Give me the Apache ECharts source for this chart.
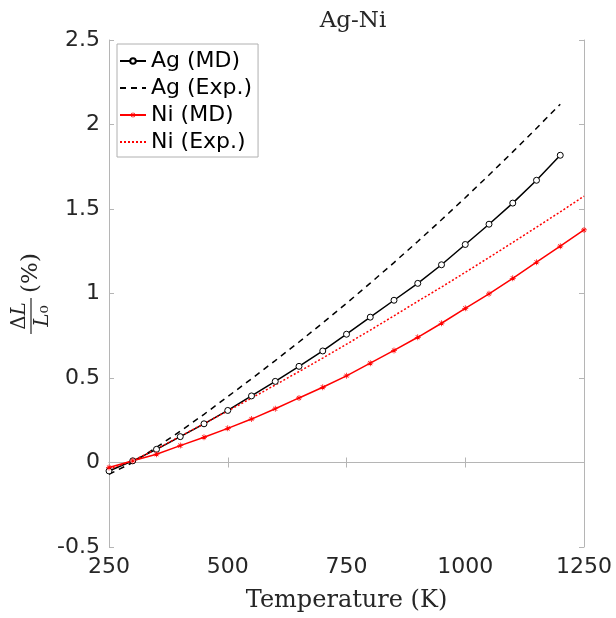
<!DOCTYPE html>
<html>
<head>
<meta charset="utf-8">
<script src="https://cdn.jsdelivr.net/npm/echarts@6/dist/echarts.min.js"></script>
<style>
html,body{margin:0;padding:0;background:#fff;}
#chart{width:616px;height:618px;}
</style>
</head>
<body>
<div id="chart"></div>
<script>
// ---- data ----
const temperaturesAg = [250,300,350,400,450,500,550,600,650,700,750,800,850,900,950,1000,1050,1100,1150,1200];
const temperaturesNi = [250,300,350,400,450,500,550,600,650,700,750,800,850,900,950,1000,1050,1100,1150,1200,1250];
const agMD  = [-0.05,0.01,0.078,0.153,0.229,0.308,0.394,0.48,0.569,0.66,0.759,0.86,0.96,1.06,1.17,1.29,1.41,1.535,1.67,1.818];
const agExp = [-0.07,0.0,0.09,0.185,0.285,0.39,0.495,0.603,0.713,0.826,0.942,1.061,1.183,1.308,1.436,1.567,1.701,1.838,1.978,2.12];
const niMD  = [-0.03,0.01,0.049,0.10,0.149,0.202,0.257,0.318,0.382,0.445,0.513,0.588,0.663,0.741,0.824,0.912,0.998,1.09,1.185,1.28,1.376];
const niExp = [-0.04,0.01,0.08,0.155,0.23,0.305,0.381,0.459,0.538,0.618,0.70,0.783,0.868,0.954,1.038,1.125,1.213,1.302,1.392,1.483,1.576];
const seriesNames = ['Ag (MD)','Ag (Exp.)','Ni (MD)','Ni (Exp.)'];
const xTicks = {min:250, max:1250, step:250};
const yTicks = {min:-0.5, max:2.5, step:0.5};

const pairs = (xs, ys) => ys.map((v,i)=>[xs[i], v]);
const txt = '#262626';
const axisGray = '#b5b5b5';
const starPath = 'path://M4.4,0H5.6V10H4.4Z M0,4.4H10V5.6H0Z M1.2,2L2,1.2L8.8,8L8,8.8Z M8,1.2L8.8,2L2,8.8L1.2,8Z';

const chart = echarts.init(document.getElementById('chart'), null, {renderer:'canvas'});

const baseAxis = {
  type:'value',
  axisLine:{show:true, lineStyle:{color:axisGray, width:1}},
  axisTick:{show:true, inside:true, length:5, lineStyle:{color:axisGray}},
  splitLine:{show:false},
};
const plainNum = v => String(v);

chart.setOption({
  animation:false,
  backgroundColor:'#fff',
  title:{
    text:'Ag-Ni', left:348, top:5, textAlign:'center',
    textStyle:{fontFamily:'DejaVu Serif', fontSize:23, fontWeight:'normal', color:txt}
  },
  grid:{left:109, right:32, top:40, bottom:68},
  legend:{
    orient:'vertical', left:117, top:44,
    data:[
      {name:seriesNames[0]},
      {name:seriesNames[1], itemStyle:{opacity:0}},
      {name:seriesNames[2]},
      {name:seriesNames[3], itemStyle:{opacity:0}}
    ],
    itemWidth:26, itemHeight:7, itemGap:5,
    padding:[6,6,4,2],
    borderColor:'#b0b0b0', borderWidth:1, backgroundColor:'#fff',
    textStyle:{fontFamily:'DejaVu Sans', fontSize:22, color:'#000', lineHeight:22}
  },
  xAxis:[
    Object.assign({}, baseAxis, {
      min:xTicks.min, max:xTicks.max, interval:xTicks.step, position:'bottom',
      axisLabel:{fontFamily:'DejaVu Sans', fontSize:22, color:txt, margin:9, formatter:plainNum},
      name:'Temperature (K)', nameLocation:'middle', nameGap:42,
      nameTextStyle:{fontFamily:'DejaVu Serif', fontSize:24, color:txt}
    }),
    Object.assign({}, baseAxis, {
      min:xTicks.min, max:xTicks.max, interval:xTicks.step, position:'top',
      axisLabel:{show:false}
    })
  ],
  yAxis:[
    Object.assign({}, baseAxis, {
      min:yTicks.min, max:yTicks.max, interval:yTicks.step, position:'left',
      axisLabel:{fontFamily:'DejaVu Sans', fontSize:22, color:txt, margin:9, formatter:plainNum}
    }),
    Object.assign({}, baseAxis, {
      min:yTicks.min, max:yTicks.max, interval:yTicks.step, position:'right',
      axisLabel:{show:false}
    })
  ],
  graphic:[{
    type:'group', x:31, y:316, rotation:Math.PI/2,
    children:[
      {type:'text', x:0, y:-1, style:{text:'Δ{i|L}', rich:{i:{fontStyle:'italic', fontFamily:'DejaVu Serif', fontSize:20, fill:txt}}, fontFamily:'DejaVu Serif', fontSize:20, fill:txt, align:'center', verticalAlign:'bottom'}},
      {type:'line', shape:{x1:-18, y1:0, x2:18, y2:0}, style:{stroke:txt, lineWidth:1.2}},
      {type:'text', x:0, y:2, style:{text:'{i|L}₀', rich:{i:{fontStyle:'italic', fontFamily:'DejaVu Serif', fontSize:20, fill:txt}}, fontFamily:'DejaVu Serif', fontSize:20, fill:txt, align:'center', verticalAlign:'top'}},
      {type:'text', x:43, y:0, style:{text:'(%)', fontFamily:'DejaVu Serif', fontSize:23, fill:txt, align:'center', verticalAlign:'middle'}}
    ]
  }],
  series:[
    {
      name:seriesNames[0], type:'line', data:pairs(temperaturesAg, agMD),
      lineStyle:{color:'#000', width:1.5}, itemStyle:{color:'#fff', borderColor:'#000', borderWidth:1},
      symbol:'circle', symbolSize:6, showSymbol:true, z:3
    },
    {
      name:seriesNames[1], type:'line', data:pairs(temperaturesAg, agExp),
      lineStyle:{color:'#000', width:1.5, type:[6,5]}, itemStyle:{color:'#000'},
      symbol:'none', z:3
    },
    {
      name:seriesNames[2], type:'line', data:pairs(temperaturesNi, niMD),
      lineStyle:{color:'#ff0000', width:1.5}, itemStyle:{color:'#ff0000'},
      symbol:starPath, symbolSize:6, showSymbol:true, z:3
    },
    {
      name:seriesNames[3], type:'line', data:pairs(temperaturesNi, niExp),
      lineStyle:{color:'#ff0000', width:1.5, type:[2,2]}, itemStyle:{color:'#ff0000'},
      symbol:'none', z:3
    }
  ]
});
</script>
</body>
</html>
